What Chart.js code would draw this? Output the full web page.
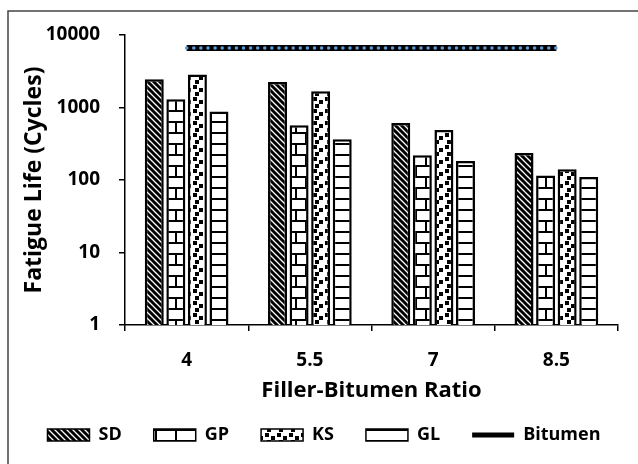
<!DOCTYPE html>
<html>
<head>
<meta charset="utf-8">
<script src="https://cdn.jsdelivr.net/npm/chart.js@4/dist/chart.umd.min.js"></script>
<style>
  body { margin: 0; background: #fff; }
  #wrap { width: 638px; height: 464px; }
</style>
</head>
<body>
<div id="wrap"><canvas id="grafica" width="638" height="464"></canvas></div>
<script>
// Eje X
const ratios = ["4", "5.5", "7", "8.5"];
// Datos (ciclos)
const datosSD = [2450, 2240, 610, 236];
const datosGP = [1300, 570, 220, 115];
const datosKS = [2850, 1680, 490, 141];
const datosGL = [880, 365, 183, 110];
const datosBitumen = [6600, 6600, 6600, 6600];
const ticksY = [1, 10, 100, 1000, 10000];

const fuente = "'Open Sans', sans-serif";

// patrones de relleno
function patron(w, h, dibujar) {
  const c = document.createElement("canvas");
  c.width = w; c.height = h;
  const g = c.getContext("2d");
  g.fillStyle = "#fff";
  g.fillRect(0, 0, w, h);
  g.fillStyle = "#000";
  g.strokeStyle = "#000";
  dibujar(g);
  return g.createPattern(c, "repeat");
}
const ctx = document.getElementById("grafica").getContext("2d");

const rayas = patron(6, 6, g => {
  g.lineWidth = 3;
  for (let k = -6; k <= 6; k += 6) {
    g.beginPath(); g.moveTo(-1, k - 1); g.lineTo(7, k + 7); g.stroke();
  }
});
const ladrillo = patron(20, 22, g => {
  g.fillRect(0, 0, 20, 2);
  g.fillRect(0, 11, 20, 2);
  g.fillRect(5, 2, 2, 9);
  g.fillRect(15, 13, 2, 9);
});
const puntos = patron(12, 12, g => {
  g.fillRect(1, 1, 4, 4);
  g.fillRect(7, 4, 4, 4);
  g.fillRect(3, 8, 4, 4);
});
const lineasH = patron(8, 11, g => {
  g.fillRect(0, 0, 8, 2);
});

const borde = {
  id: "borde",
  afterDraw(chart) {
    const c = chart.ctx;
    c.save();
    c.strokeStyle = "#444";
    c.lineWidth = 1.5;
    c.beginPath();
    c.moveTo(8, 464); c.lineTo(8, 11); c.lineTo(638, 11);
    c.stroke();
    c.restore();
  }
};

new Chart(ctx, {
  type: "bar",
  data: {
    labels: ratios,
    datasets: [
      { label: "SD", data: datosSD, backgroundColor: rayas, borderColor: "#000", borderWidth: 2.5, order: 2 },
      { label: "GP", data: datosGP, backgroundColor: ladrillo, borderColor: "#000", borderWidth: 2.5, order: 2 },
      { label: "KS", data: datosKS, backgroundColor: puntos, borderColor: "#000", borderWidth: 2.5, order: 2 },
      { label: "GL", data: datosGL, backgroundColor: lineasH, borderColor: "#000", borderWidth: 2.5, order: 2 },
      {
        type: "line", label: "Bitumen", data: datosBitumen,
        borderColor: "#000", backgroundColor: "#000", borderWidth: 6,
        pointRadius: 0, fill: false, order: 1
      },
      {
        // puntos azules sobre la línea
        type: "line", label: "", data: datosBitumen,
        borderColor: "#5b9bd5", borderWidth: 3.5, borderDash: [0.1, 7],
        borderCapStyle: "round", pointRadius: 0, fill: false, order: 0
      }
    ]
  },
  options: {
    responsive: false,
    animation: false,
    categoryPercentage: 0.7,
    barPercentage: 0.88,
    layout: { padding: { top: 35, right: 0, bottom: 10, left: 10 } },
    plugins: {
      tooltip: { enabled: false },
      legend: {
        position: "bottom",
        labels: {
          color: "#000",
          font: { family: fuente, size: 18, weight: "bold" },
          usePointStyle: true,
          pointStyleWidth: 42,
          boxHeight: 12,
          boxWidth: 42,
          padding: 32,
          generateLabels(chart) {
            const items = Chart.defaults.plugins.legend.labels.generateLabels(chart)
              .filter(i => i.text)
              .sort((a, b) => a.datasetIndex - b.datasetIndex);
            items.forEach(i => {
              if (i.text === "Bitumen") {
                i.pointStyle = "line";
                i.lineWidth = 5;
                i.strokeStyle = "#000";
              } else {
                i.pointStyle = "rect";
                i.lineWidth = 1.5;
              }
            });
            return items;
          }
        }
      }
    },
    scales: {
      x: {
        afterFit(s) { s.height = 69; },
        border: { color: "#000", width: 1.5 },
        grid: { drawOnChartArea: false, color: "#000", tickLength: 6, lineWidth: 1.5 },
        ticks: { color: "#000", padding: 18, font: { family: fuente, size: 19, weight: "bold" } },
        title: {
          display: true, text: "Filler-Bitumen Ratio", color: "#000",
          font: { family: fuente, size: 22, weight: "bold" }, padding: { top: 0, bottom: -10 }
        }
      },
      y: {
        type: "logarithmic",
        min: 1, max: 10000,
        afterFit(s) { s.width = 115; },
        afterBuildTicks(s) { s.ticks = ticksY.map(v => ({ value: v })); },
        border: { color: "#000", width: 1.5 },
        grid: { drawOnChartArea: false, color: "#000", tickLength: 6, lineWidth: 1.5 },
        ticks: {
          color: "#000", padding: 19,
          font: { family: fuente, size: 19, weight: "bold" },
          callback: v => String(v)
        },
        title: {
          display: true, text: "Fatigue Life (Cycles)", color: "#000",
          font: { family: fuente, size: 23, weight: "bold", lineHeight: 1 }, padding: { top: 13, bottom: 0 }
        }
      },
      yDer: {
        position: "right",
        afterFit(s) { s.width = 20; },
        grid: { display: false },
        border: { display: false },
        ticks: { display: false }
      }
    }
  },
  plugins: [borde]
});
</script>
</body>
</html>
